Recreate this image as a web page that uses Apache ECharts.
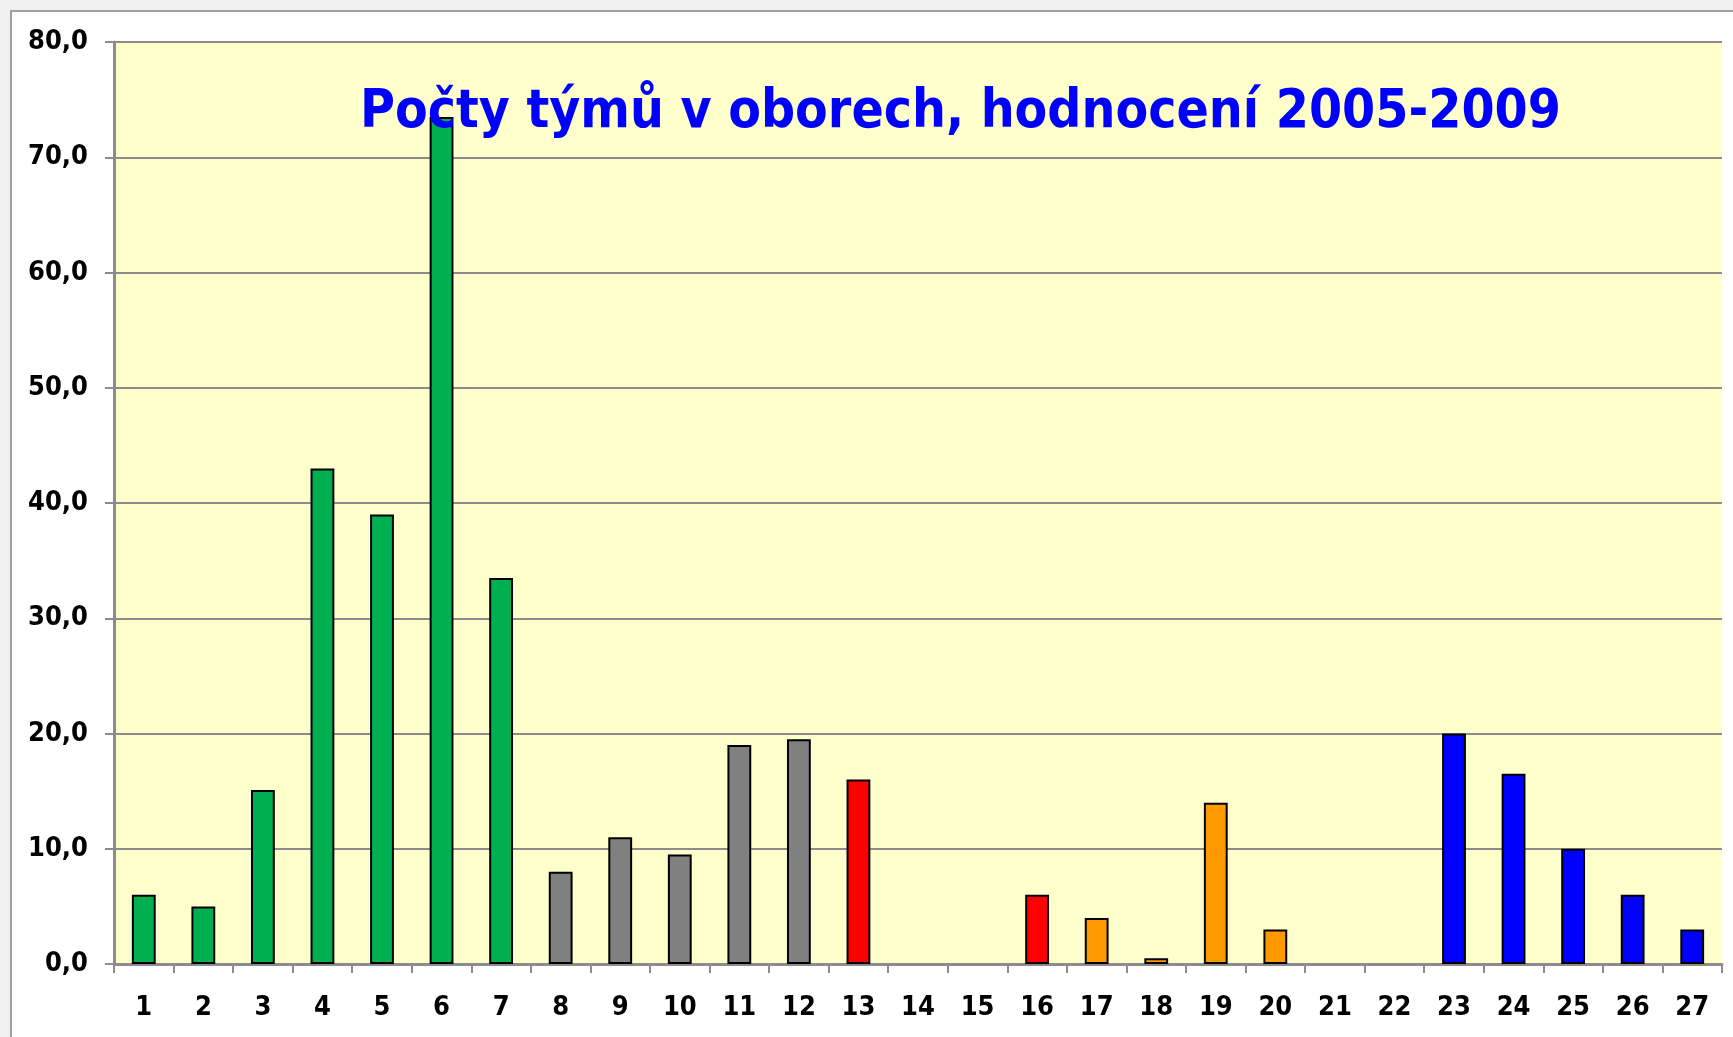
<!DOCTYPE html>
<html>
<head>
<meta charset="utf-8">
<script src="https://cdn.jsdelivr.net/npm/echarts@6/dist/echarts.min.js"></script>
<style>
  html, body { margin: 0; padding: 0; background: #f0f0f0; }
  #frame {
    position: absolute; left: 10px; top: 10px; right: 0; bottom: 0;
    background: #fff; border-left: 2px solid #a0a0a0; border-top: 2px solid #a0a0a0;
  }
  #chart { position: absolute; left: 0; top: 0; width: 1733px; height: 1037px; }
</style>
</head>
<body>
<div id="frame"></div>
<div id="chart"></div>
<script>
// obory 1..27
const categories = ['1', '2', '3', '4', '5', '6', '7', '8', '9', '10', '11', '12', '13', '14',
  '15', '16', '17', '18', '19', '20', '21', '22', '23', '24', '25', '26', '27']
const teamCounts = [6, 5, 15.1, 43, 39, 73.5, 33.5, 8, 11, 9.5, 19, 19.5, 16, 0,
  0, 6, 4, 0.5, 14, 3, 0, 0, 20, 16.5, 10, 6, 3]
// skupina oboru pro kazdy sloupec
const groups = ['g', 'g', 'g', 'g', 'g', 'g', 'g', 'k', 'k', 'k', 'k', 'k', 'r', 'r',
  'r', 'r', 'o', 'o', 'o', 'o', 'o', 'o', 'b', 'b', 'b', 'b', 'b']
const yTicks = [0, 10, 20, 30, 40, 50, 60, 70, 80]
const titleText = 'Počty týmů v oborech, hodnocení 2005-2009'

const groupColors = { g: '#00b050', k: '#808080', r: '#ff0000', o: '#ff9900', b: '#0000ff' }
const font = 'Tahoma, "DejaVu Sans Condensed", "DejaVu Sans", sans-serif'

const chart = echarts.init(document.getElementById('chart'), null, { renderer: 'canvas' })
chart.setOption({
  animation: false,
  backgroundColor: 'transparent',
  title: {
    text: titleText,
    left: 355,
    top: 82,
    textStyle: { color: '#0000ff', fontFamily: font, fontWeight: 'bold', fontSize: 53 }
  },
  grid: {
    left: 114, top: 42, right: 11, bottom: 73,
    show: true, backgroundColor: '#ffffcc', borderWidth: 0
  },
  xAxis: {
    type: 'category',
    data: categories,
    axisLine: { lineStyle: { color: '#8c8c8c', width: 3 } },
    axisTick: { show: true, length: 9, lineStyle: { color: '#8c8c8c', width: 2 } },
    axisLabel: {
      color: '#000', fontFamily: font, fontWeight: 'bold', fontSize: 27, margin: 30
    }
  },
  yAxis: {
    type: 'value',
    min: yTicks[0],
    max: yTicks[yTicks.length - 1],
    interval: yTicks[1] - yTicks[0],
    axisLine: { show: true, lineStyle: { color: '#8c8c8c', width: 3 } },
    axisTick: { show: true, length: 9, lineStyle: { color: '#8c8c8c', width: 2 } },
    splitLine: { lineStyle: { color: '#8c8c8c', width: 2 } },
    axisLabel: {
      color: '#000', fontFamily: font, fontWeight: 'bold', fontSize: 27, margin: 26,
      formatter: v => v.toFixed(1).replace('.', ',')
    }
  },
  series: [{
    type: 'bar',
    data: teamCounts.map((v, i) => ({
      value: v,
      // nulove obory se v originale nekresli vubec
      itemStyle: { color: groupColors[groups[i]], borderWidth: v === 0 ? 0 : 2 }
    })),
    barWidth: '40%',
    itemStyle: { borderColor: '#000' }
  }]
})
</script>
</body>
</html>
